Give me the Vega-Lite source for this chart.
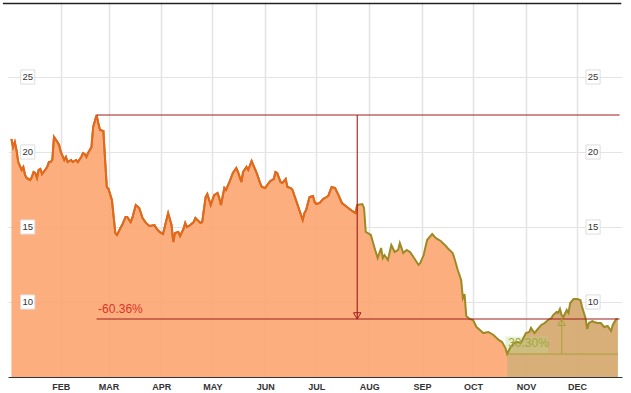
{
  "$schema": "https://vega.github.io/schema/vega-lite/v6.json",
  "width": 614,
  "height": 375,
  "autosize": {"type": "none"},
  "padding": {"left": 8, "top": 2, "right": 9, "bottom": 16},
  "background": "white",
  "config": {"view": {"stroke": null}, "font": "Liberation Sans"},
  "datasets": {
    "price": [
      {"date":"2019-01-03","price":20.87},{"date":"2019-01-04","price":20.33},{"date":"2019-01-05","price":20.67},{"date":"2019-01-06","price":20.13},
      {"date":"2019-01-07","price":19.33},{"date":"2019-01-09","price":18.8},{"date":"2019-01-10","price":19.0},{"date":"2019-01-11","price":18.47},
      {"date":"2019-01-12","price":18.27},{"date":"2019-01-14","price":18.13},{"date":"2019-01-15","price":18.33},{"date":"2019-01-16","price":18.67},
      {"date":"2019-01-17","price":18.6},{"date":"2019-01-18","price":18.27},{"date":"2019-01-19","price":18.8},{"date":"2019-01-20","price":18.87},
      {"date":"2019-01-21","price":18.53},{"date":"2019-01-24","price":19.0},{"date":"2019-01-25","price":19.33},{"date":"2019-01-26","price":19.33},
      {"date":"2019-01-27","price":19.47},{"date":"2019-01-28","price":21.0},{"date":"2019-01-30","price":20.67},{"date":"2019-01-31","price":20.47},
      {"date":"2019-02-01","price":20.0},{"date":"2019-02-03","price":19.47},{"date":"2019-02-04","price":19.67},{"date":"2019-02-05","price":19.33},
      {"date":"2019-02-07","price":19.47},{"date":"2019-02-08","price":19.33},{"date":"2019-02-10","price":19.47},{"date":"2019-02-11","price":19.33},
      {"date":"2019-02-13","price":19.67},{"date":"2019-02-14","price":19.93},{"date":"2019-02-15","price":19.87},{"date":"2019-02-16","price":19.67},
      {"date":"2019-02-17","price":19.93},{"date":"2019-02-19","price":20.33},{"date":"2019-02-20","price":21.67},{"date":"2019-02-22","price":22.47},
      {"date":"2019-02-23","price":21.93},{"date":"2019-02-24","price":21.47},{"date":"2019-02-26","price":21.4},{"date":"2019-02-27","price":19.47},
      {"date":"2019-02-28","price":17.67},{"date":"2019-03-01","price":17.53},{"date":"2019-03-03","price":16.8},{"date":"2019-03-05","price":14.6},
      {"date":"2019-03-06","price":14.47},{"date":"2019-03-08","price":14.93},{"date":"2019-03-09","price":15.13},{"date":"2019-03-11","price":15.67},
      {"date":"2019-03-12","price":15.67},{"date":"2019-03-14","price":15.33},{"date":"2019-03-15","price":15.6},{"date":"2019-03-17","price":16.47},
      {"date":"2019-03-19","price":16.27},{"date":"2019-03-21","price":15.6},{"date":"2019-03-23","price":15.27},{"date":"2019-03-25","price":15.07},
      {"date":"2019-03-28","price":15.13},{"date":"2019-03-29","price":14.93},{"date":"2019-03-31","price":14.67},{"date":"2019-04-02","price":14.53},
      {"date":"2019-04-04","price":15.47},{"date":"2019-04-05","price":15.93},{"date":"2019-04-07","price":15.13},{"date":"2019-04-08","price":14.0},
      {"date":"2019-04-09","price":14.6},{"date":"2019-04-11","price":14.67},{"date":"2019-04-12","price":14.4},{"date":"2019-04-14","price":14.87},
      {"date":"2019-04-15","price":15.27},{"date":"2019-04-16","price":15.0},{"date":"2019-04-18","price":15.13},{"date":"2019-04-20","price":15.33},
      {"date":"2019-04-21","price":15.6},{"date":"2019-04-24","price":15.27},{"date":"2019-04-25","price":15.33},{"date":"2019-04-27","price":17.0},
      {"date":"2019-04-28","price":17.2},{"date":"2019-04-30","price":16.47},{"date":"2019-05-01","price":16.8},{"date":"2019-05-02","price":17.13},
      {"date":"2019-05-04","price":17.27},{"date":"2019-05-05","price":16.93},{"date":"2019-05-06","price":16.47},{"date":"2019-05-08","price":17.6},
      {"date":"2019-05-09","price":17.47},{"date":"2019-05-11","price":18.0},{"date":"2019-05-13","price":18.6},{"date":"2019-05-15","price":18.93},
      {"date":"2019-05-16","price":18.67},{"date":"2019-05-18","price":18.0},{"date":"2019-05-19","price":18.67},{"date":"2019-05-21","price":19.0},
      {"date":"2019-05-22","price":18.8},{"date":"2019-05-24","price":19.4},{"date":"2019-05-25","price":19.13},{"date":"2019-05-27","price":18.6},
      {"date":"2019-05-29","price":17.93},{"date":"2019-05-30","price":17.67},{"date":"2019-06-01","price":17.6},{"date":"2019-06-03","price":17.93},
      {"date":"2019-06-04","price":18.07},{"date":"2019-06-06","price":18.2},{"date":"2019-06-07","price":18.67},{"date":"2019-06-08","price":18.6},
      {"date":"2019-06-10","price":18.0},{"date":"2019-06-11","price":17.93},{"date":"2019-06-13","price":18.2},{"date":"2019-06-14","price":17.67},
      {"date":"2019-06-16","price":17.6},{"date":"2019-06-17","price":17.47},{"date":"2019-06-18","price":17.13},{"date":"2019-06-20","price":16.47},
      {"date":"2019-06-21","price":16.13},{"date":"2019-06-23","price":15.47},{"date":"2019-06-24","price":15.93},{"date":"2019-06-25","price":16.13},
      {"date":"2019-06-27","price":17.0},{"date":"2019-06-29","price":17.07},{"date":"2019-06-30","price":16.67},{"date":"2019-07-01","price":16.53},
      {"date":"2019-07-03","price":16.6},{"date":"2019-07-05","price":16.87},{"date":"2019-07-07","price":17.0},{"date":"2019-07-08","price":17.07},
      {"date":"2019-07-10","price":17.67},{"date":"2019-07-12","price":17.6},{"date":"2019-07-14","price":17.13},{"date":"2019-07-16","price":16.6},
      {"date":"2019-07-19","price":16.33},{"date":"2019-07-22","price":16.07},{"date":"2019-07-24","price":15.93},{"date":"2019-07-25","price":16.47},
      {"date":"2019-07-28","price":16.53},{"date":"2019-07-29","price":16.27},{"date":"2019-07-30","price":14.67},{"date":"2019-08-02","price":14.47},
      {"date":"2019-08-04","price":13.67},{"date":"2019-08-06","price":12.93},{"date":"2019-08-08","price":13.6},{"date":"2019-08-09","price":12.93},
      {"date":"2019-08-10","price":13.13},{"date":"2019-08-12","price":12.8},{"date":"2019-08-14","price":13.8},{"date":"2019-08-16","price":13.33},
      {"date":"2019-08-18","price":13.47},{"date":"2019-08-19","price":13.93},{"date":"2019-08-21","price":13.27},{"date":"2019-08-23","price":13.47},
      {"date":"2019-08-25","price":13.33},{"date":"2019-08-27","price":13.0},{"date":"2019-08-30","price":12.47},{"date":"2019-08-31","price":12.6},
      {"date":"2019-09-02","price":13.13},{"date":"2019-09-04","price":14.13},{"date":"2019-09-06","price":14.4},{"date":"2019-09-07","price":14.53},
      {"date":"2019-09-09","price":14.27},{"date":"2019-09-12","price":14.07},{"date":"2019-09-15","price":13.73},{"date":"2019-09-16","price":13.6},
      {"date":"2019-09-19","price":13.27},{"date":"2019-09-20","price":12.93},{"date":"2019-09-22","price":12.13},{"date":"2019-09-24","price":11.47},
      {"date":"2019-09-25","price":10.27},{"date":"2019-09-26","price":10.53},{"date":"2019-09-27","price":9.07},{"date":"2019-09-29","price":8.87},
      {"date":"2019-10-01","price":8.8},{"date":"2019-10-03","price":8.33},{"date":"2019-10-05","price":8.13},{"date":"2019-10-07","price":7.93},
      {"date":"2019-10-10","price":8.0},{"date":"2019-10-13","price":7.8},{"date":"2019-10-16","price":7.47},{"date":"2019-10-18","price":7.33},
      {"date":"2019-10-20","price":6.93},{"date":"2019-10-21","price":6.53},{"date":"2019-10-23","price":7.0},{"date":"2019-10-24","price":7.13},
      {"date":"2019-10-25","price":7.27},{"date":"2019-10-27","price":7.33},{"date":"2019-10-29","price":7.27},{"date":"2019-10-30","price":7.47},
      {"date":"2019-11-01","price":7.93},{"date":"2019-11-03","price":8.0},{"date":"2019-11-04","price":8.27},{"date":"2019-11-06","price":7.93},
      {"date":"2019-11-08","price":8.2},{"date":"2019-11-10","price":8.47},{"date":"2019-11-12","price":8.6},{"date":"2019-11-14","price":8.8},
      {"date":"2019-11-16","price":8.93},{"date":"2019-11-17","price":9.13},{"date":"2019-11-19","price":9.33},{"date":"2019-11-20","price":9.27},
      {"date":"2019-11-21","price":9.53},{"date":"2019-11-22","price":9.13},{"date":"2019-11-23","price":9.0},{"date":"2019-11-25","price":9.47},
      {"date":"2019-11-26","price":9.27},{"date":"2019-11-27","price":9.93},{"date":"2019-11-29","price":10.2},{"date":"2019-12-01","price":10.2},
      {"date":"2019-12-03","price":10.13},{"date":"2019-12-04","price":9.67},{"date":"2019-12-06","price":8.93},{"date":"2019-12-07","price":8.2},
      {"date":"2019-12-08","price":8.6},{"date":"2019-12-10","price":8.73},{"date":"2019-12-11","price":8.67},{"date":"2019-12-13","price":8.6},
      {"date":"2019-12-15","price":8.6},{"date":"2019-12-17","price":8.33},{"date":"2019-12-19","price":8.4},{"date":"2019-12-21","price":8.07},
      {"date":"2019-12-22","price":8.47},{"date":"2019-12-24","price":8.87},{"date":"2019-12-25","price":8.87}
    ],
    "ticks": [{"tick": 10}, {"tick": 15}, {"tick": 20}, {"tick": 25}],
    "redLines": [
      {"d1": "2019-02-22", "d2": "2019-12-26", "v1": 22.47, "v2": 22.47},
      {"d1": "2019-02-22", "d2": "2019-12-26", "v1": 8.87, "v2": 8.87},
      {"d1": "2019-07-25", "d2": "2019-07-25", "v1": 22.47, "v2": 8.87}
    ],
    "greenLines": [
      {"d1": "2019-10-21", "d2": "2019-12-25", "v1": 6.53, "v2": 6.53},
      {"d1": "2019-11-22", "d2": "2019-11-22", "v1": 6.53, "v2": 8.87}
    ],
    "textBox": [{"d1": "2019-10-20", "d2": "2019-11-14", "v1": 6.6, "v2": 7.7}],
    "frame": [{"d1": "2018-12-29", "d2": "2019-12-27", "v": 29.9}],
    "redArrow": [{"date": "2019-07-25", "v": 9.07}],
    "greenArrow": [{"date": "2019-11-22", "v": 8.65}],
    "redText": [{"date": "2019-02-22", "v": 8.87, "label": "-60.36%"}],
    "greenText": [{"date": "2019-10-21", "v": 6.53, "label": "30.30%"}]
  },
  "layer": [
    {
      "data": {"name": "price"},
      "mark": {"type": "area", "color": "#FDA36C", "opacity": 0.88, "clip": true},
      "encoding": {
        "x": {
          "field": "date", "type": "temporal",
          "scale": {"type": "utc", "domain": [{"year": 2019, "month": 1, "date": 1, "utc": true}, {"year": 2019, "month": 12, "date": 27, "hours": 10, "utc": true}]},
          "axis": {
            "title": null, "orient": "bottom",
            "values": [
              {"year": 2019, "month": 2, "date": 1, "utc": true}, {"year": 2019, "month": 3, "date": 1, "utc": true},
              {"year": 2019, "month": 4, "date": 1, "utc": true}, {"year": 2019, "month": 5, "date": 1, "utc": true},
              {"year": 2019, "month": 6, "date": 1, "utc": true}, {"year": 2019, "month": 7, "date": 1, "utc": true},
              {"year": 2019, "month": 8, "date": 1, "utc": true}, {"year": 2019, "month": 9, "date": 1, "utc": true},
              {"year": 2019, "month": 10, "date": 1, "utc": true}, {"year": 2019, "month": 11, "date": 1, "utc": true},
              {"year": 2019, "month": 12, "date": 1, "utc": true}
            ],
            "labelExpr": "upper(utcFormat(datum.value, '%b'))",
            "grid": true, "gridColor": "#e4e4e4", "gridWidth": 1.5,
            "ticks": false, "domain": true, "domainColor": "#333333", "domainWidth": 1,
            "labelFont": "Liberation Sans", "labelFontSize": 9, "labelFontWeight": "bold", "labelColor": "#333333",
            "labelPadding": 5, "labelAlign": "center", "labelBaseline": "top"
          }
        },
        "y": {
          "field": "price", "type": "quantitative",
          "scale": {"domain": [5, 30], "zero": false, "nice": false},
          "axis": {
            "title": null, "values": [10, 15, 20, 25], "labels": false, "ticks": false, "domain": false,
            "grid": true, "gridColor": "#e4e4e4", "gridWidth": 1
          }
        },
        "y2": {"datum": 5}
      }
    },
    {
      "data": {"name": "price"},
      "transform": [{"filter": "time(datum.date) >= utc(2019, 9, 21)"}],
      "mark": {"type": "area", "color": "#84B06C", "opacity": 0.3, "clip": true},
      "encoding": {
        "x": {"field": "date", "type": "temporal"},
        "y": {"field": "price", "type": "quantitative"},
        "y2": {"datum": 5}
      }
    },
    {
      "data": {"name": "textBox"},
      "mark": {"type": "rect", "color": "#B8DC8C", "opacity": 0.35},
      "encoding": {
        "x": {"field": "d1", "type": "temporal"},
        "x2": {"field": "d2"},
        "y": {"field": "v1", "type": "quantitative"},
        "y2": {"field": "v2"}
      }
    },
    {
      "data": {"name": "price"},
      "mark": {"type": "line", "color": "#9C8A24", "strokeWidth": 2},
      "encoding": {
        "x": {"field": "date", "type": "temporal"},
        "y": {"field": "price", "type": "quantitative"}
      }
    },
    {
      "data": {"name": "price"},
      "transform": [{"filter": "time(datum.date) <= utc(2019, 6, 26)"}],
      "mark": {"type": "line", "color": "#E8661C", "strokeWidth": 2},
      "encoding": {
        "x": {"field": "date", "type": "temporal"},
        "y": {"field": "price", "type": "quantitative"}
      }
    },
    {
      "data": {"name": "redLines"},
      "mark": {"type": "rule", "color": "#A01C1C", "strokeWidth": 1.1},
      "encoding": {
        "x": {"field": "d1", "type": "temporal"},
        "x2": {"field": "d2"},
        "y": {"field": "v1", "type": "quantitative"},
        "y2": {"field": "v2"}
      }
    },
    {
      "data": {"name": "greenLines"},
      "mark": {"type": "rule", "color": "#A8A23A", "strokeWidth": 1},
      "encoding": {
        "x": {"field": "d1", "type": "temporal"},
        "x2": {"field": "d2"},
        "y": {"field": "v1", "type": "quantitative"},
        "y2": {"field": "v2"}
      }
    },
    {
      "data": {"name": "redArrow"},
      "mark": {"type": "point", "shape": "triangle-down", "size": 55, "filled": false, "color": "#A01C1C", "strokeWidth": 1, "opacity": 1},
      "encoding": {
        "x": {"field": "date", "type": "temporal"},
        "y": {"field": "v", "type": "quantitative"}
      }
    },
    {
      "data": {"name": "greenArrow"},
      "mark": {"type": "point", "shape": "triangle-up", "size": 55, "filled": false, "color": "#A8A23A", "strokeWidth": 1, "opacity": 1},
      "encoding": {
        "x": {"field": "date", "type": "temporal"},
        "y": {"field": "v", "type": "quantitative"}
      }
    },
    {
      "data": {"name": "redText"},
      "mark": {"type": "text", "color": "#D9342A", "fontSize": 12, "align": "left", "baseline": "alphabetic", "dx": 1.5, "dy": -6, "font": "Liberation Sans"},
      "encoding": {
        "x": {"field": "date", "type": "temporal"},
        "y": {"field": "v", "type": "quantitative"},
        "text": {"field": "label"}
      }
    },
    {
      "data": {"name": "greenText"},
      "mark": {"type": "text", "color": "#A4A43A", "fontSize": 12, "align": "left", "baseline": "alphabetic", "dx": 1, "dy": -7, "font": "Liberation Sans"},
      "encoding": {
        "x": {"field": "date", "type": "temporal"},
        "y": {"field": "v", "type": "quantitative"},
        "text": {"field": "label"}
      }
    },
    {
      "data": {"name": "frame"},
      "mark": {"type": "rule", "color": "#222222", "strokeWidth": 1.5},
      "encoding": {
        "x": {"field": "d1", "type": "temporal"},
        "x2": {"field": "d2"},
        "y": {"field": "v", "type": "quantitative"}
      }
    },
    {
      "data": {"name": "ticks"},
      "mark": {"type": "point", "shape": "square", "size": 200, "filled": true, "fill": "#ffffff", "stroke": "#dddddd", "strokeWidth": 1, "opacity": 1},
      "encoding": {
        "x": {"datum": {"year": 2019, "month": 1, "date": 12, "hours": 14, "utc": true}, "type": "temporal"},
        "y": {"field": "tick", "type": "quantitative"}
      }
    },
    {
      "data": {"name": "ticks"},
      "mark": {"type": "text", "fontSize": 9.5, "color": "#333333", "align": "center", "baseline": "middle", "font": "Liberation Sans"},
      "encoding": {
        "x": {"datum": {"year": 2019, "month": 1, "date": 12, "hours": 14, "utc": true}, "type": "temporal"},
        "y": {"field": "tick", "type": "quantitative"},
        "text": {"field": "tick"}
      }
    },
    {
      "data": {"name": "ticks"},
      "mark": {"type": "point", "shape": "square", "size": 200, "filled": true, "fill": "#ffffff", "stroke": "#dddddd", "strokeWidth": 1, "opacity": 1},
      "encoding": {
        "x": {"datum": {"year": 2019, "month": 12, "date": 10, "hours": 10, "utc": true}, "type": "temporal"},
        "y": {"field": "tick", "type": "quantitative"}
      }
    },
    {
      "data": {"name": "ticks"},
      "mark": {"type": "text", "fontSize": 9.5, "color": "#333333", "align": "center", "baseline": "middle", "font": "Liberation Sans"},
      "encoding": {
        "x": {"datum": {"year": 2019, "month": 12, "date": 10, "hours": 10, "utc": true}, "type": "temporal"},
        "y": {"field": "tick", "type": "quantitative"},
        "text": {"field": "tick"}
      }
    }
  ]
}
